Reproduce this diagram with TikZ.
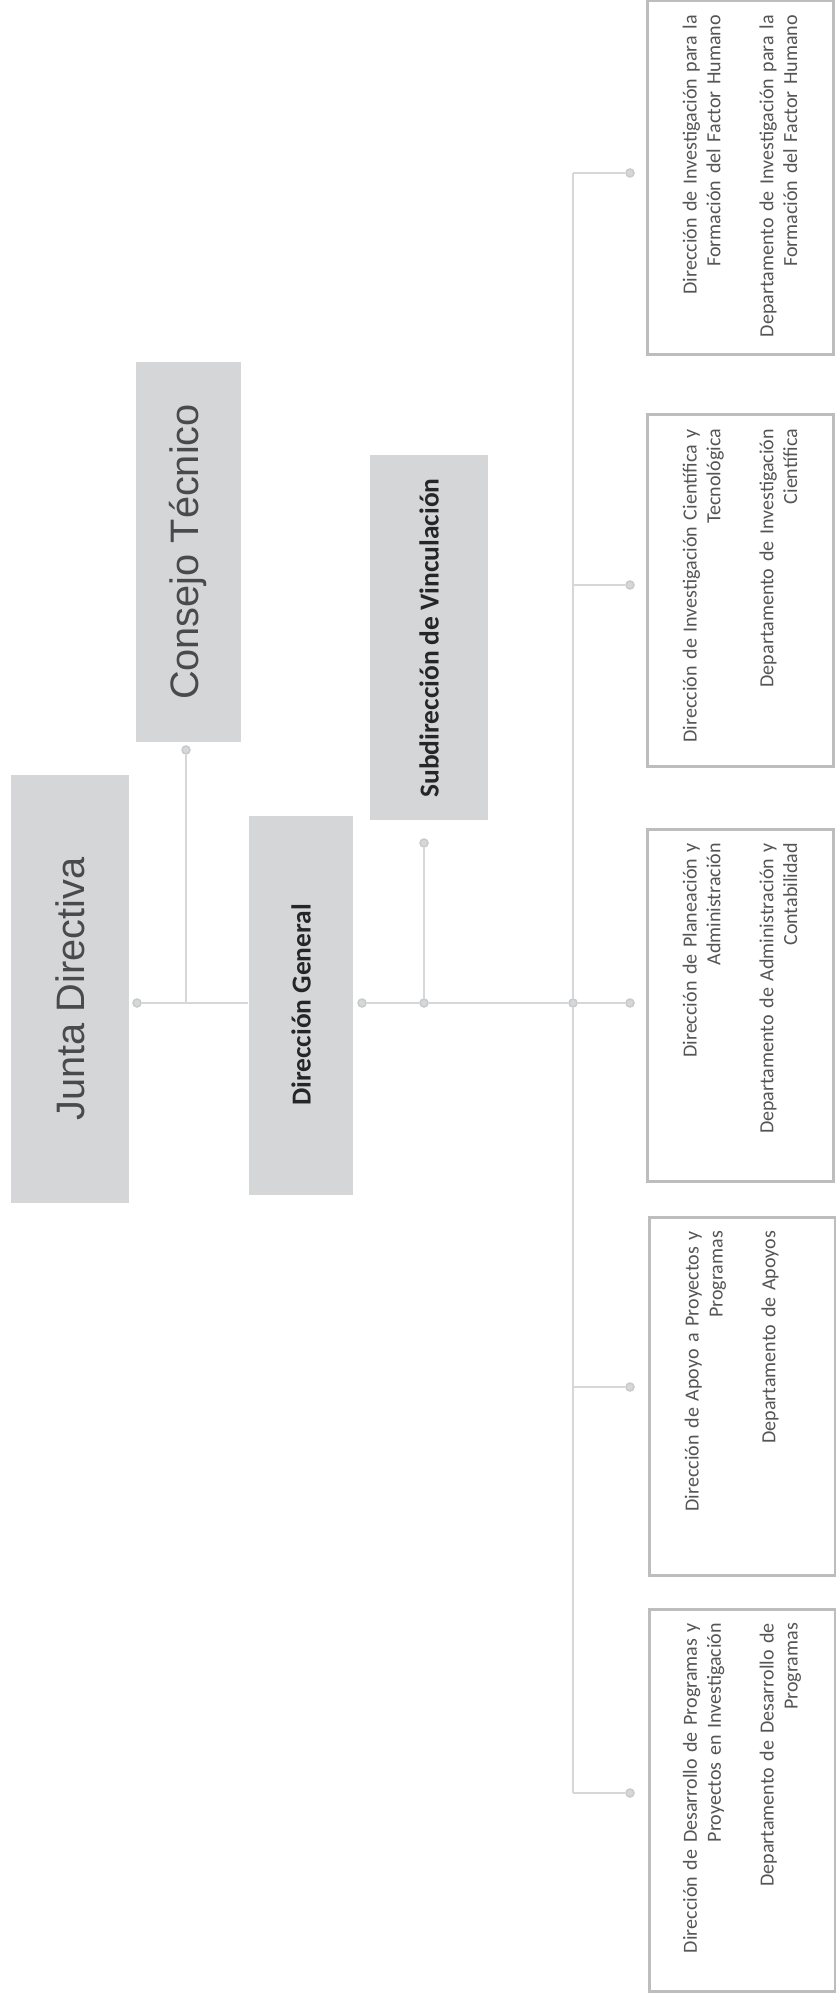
\documentclass[tikz,border=0pt]{standalone}
\usepackage{fontspec}
\setmainfont{Carlito}
\newfontfamily\headfont{Liberation Sans}
\usetikzlibrary{positioning}
\hyphenpenalty=10000
\exhyphenpenalty=10000

\definecolor{headfill}{HTML}{D5D6D8}
\definecolor{boxline}{HTML}{BDBDBD}
\definecolor{connline}{HTML}{D6D7D9}
\definecolor{dotline}{HTML}{C9CACC}
\definecolor{headtext}{HTML}{4A4A4C}
\definecolor{unittext}{HTML}{555557}

\begin{document}
\begin{tikzpicture}[
        x=0.1mm, y=-0.1mm,
        head/.style={fill=headfill, rotate=90, inner sep=0pt, text=headtext},
        bighead/.style={head, font=\headfont\fontsize{11.3}{13}\selectfont},
        boldhead/.style={head, font=\bfseries\fontsize{7.8}{9}\selectfont, text=black!85},
        unit/.style={draw=boxline, line width=0.3mm, fill=white, rotate=90, align=right,
                     text width=#1, inner xsep=1.4mm, minimum height=18.6mm,
                     font=\fontsize{5.7}{6.8}\selectfont, text=unittext},
        conn/.style={draw=connline, line width=0.22mm},
        dot/.style={circle, draw=dotline, fill=connline, line width=0.15mm, inner sep=0pt, minimum size=0.8mm}
    ]
    \useasboundingbox (0,0) rectangle (835,1997);

    % Top: board, council, direction
    \node[bighead, minimum width=42.8mm, minimum height=11.8mm] (junta) at (70,989) {Junta Directiva};
    \node[bighead, minimum width=38.0mm, minimum height=10.5mm] (consejo) at (188,552) {Consejo Técnico};
    \node[boldhead, minimum width=37.9mm, minimum height=10.4mm] (dirgen) at (301,1005) {Dirección General};
    \node[boldhead, minimum width=36.5mm, minimum height=11.8mm] (subdir) at (429,638) {Subdirección de Vinculación};

    % Right: directions and departments
    \node[unit=32.6mm] (fhum) at (740,178) {Dirección de Investigación para la\\Formación del Factor Humano\\[2.9mm]Departamento de Investigación para la\\Formación del Factor Humano};
    \node[unit=32.4mm] (cient) at (740,591) {Dirección de Investigación Científica y\\Tecnológica\\[2.9mm]Departamento de Investigación\\Científica};
    \node[unit=32.4mm] (plan) at (740,1005) {Dirección de Planeación y\\Administración\\[2.9mm]Departamento de Administración y\\Contabilidad};
    \node[unit=33.0mm] (apoyo) at (742,1396) {Dirección de Apoyo a Proyectos y\\Programas\\[2.9mm]Departamento de Apoyos\\\mbox{}};
    \node[unit=35.4mm] (desar) at (742,1800) {Dirección de Desarrollo de Programas y\\Proyectos en Investigación\\[2.9mm]Departamento de Desarrollo de\\Programas};

    % Dots
    \node[dot] (jdot) at (137,1003) {};
    \node[dot] (cdot) at (186,750) {};
    \node[dot] (gdot) at (362,1003) {};
    \node[dot] (sdot) at (424,843) {};
    \node[dot] (sjoin) at (424,1003) {};
    \node[dot] (hub) at (573,1003) {};
    \node[dot] (d1) at (630,173) {};
    \node[dot] (d2) at (630,585) {};
    \node[dot] (d3) at (630,1003) {};
    \node[dot] (d4) at (630,1387) {};
    \node[dot] (d5) at (630,1793) {};

    % Connectors
    \draw[conn] (jdot) -- (dirgen.north |- jdot);
    \draw[conn] (cdot) -- (cdot |- jdot);
    \draw[conn] (gdot) -- (sjoin) -- (hub) -- (d3);
    \draw[conn] (sdot) -- (sjoin);
    \draw[conn] (hub |- d1) -- (hub);
    \draw[conn] (hub) -- (hub |- d5);
    \foreach \d in {d1,d2,d4,d5}
        \draw[conn] (hub |- \d) -- (\d);

\end{tikzpicture}
\end{document}
